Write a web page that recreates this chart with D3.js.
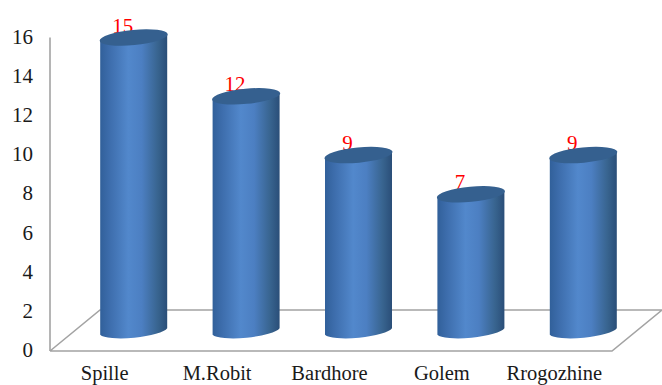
<!DOCTYPE html>
<html>
<head>
<meta charset="utf-8">
<script src="https://cdn.jsdelivr.net/npm/d3@7"></script>
<style>
  html, body { margin: 0; padding: 0; background: #fff; }
  svg { display: block; }
  text { font-family: "Liberation Serif", serif; }
</style>
</head>
<body>
<svg id="chart" width="662" height="385"></svg>
<script>
const categories = ["Spille", "M.Robit", "Bardhore", "Golem", "Rrogozhine"];
const values = [15, 12, 9, 7, 9];
const tickValues = [0, 2, 4, 6, 8, 10, 12, 14, 16];

const svg = d3.select("#chart");

// Oblique projection: the floor recedes up and to the right
const depthX = 50, depthY = -41;
const barShiftX = 27.5, barShiftY = -19.5;
const cylW = 67, rx = 34.2, ry = 7.6, tilt = -5.5;

const y = d3.scaleLinear().domain([0, 16]).range([351, 37.4]);
const x = d3.scaleBand().domain(categories).range([50, 612]).paddingInner(0).paddingOuter(0);
const heightOf = v => y(0) - y(v);

// Cylinder body shading runs left to right
const defs = svg.append("defs");
const grad = defs.append("linearGradient").attr("id", "body").attr("x1", 0).attr("x2", 1).attr("y1", 0).attr("y2", 0);
[[0, "#31609a"], [0.14, "#3d6dac"], [0.42, "#5288cc"], [0.62, "#4c7fc2"], [0.86, "#38648f"], [1, "#2a4e78"]]
  .forEach(([o, c]) => grad.append("stop").attr("offset", o).attr("stop-color", c));

// Walls and floor
const grey = "#a3a3a3";
const x0 = x.range()[0], x1 = x.range()[1];
svg.append("path")
  .attr("d", d3.line()([
    [x0, y(0)], [x1, y(0)], [x1 + depthX, y(0) + depthY], [x0 + depthX, y(0) + depthY], [x0, y(0)]
  ]))
  .attr("fill", "#fff").attr("stroke", grey).attr("stroke-width", 1.6);

svg.append("line")
  .attr("x1", x0).attr("x2", x0).attr("y1", y(16)).attr("y2", y(0))
  .attr("stroke", grey).attr("stroke-width", 1.6);

// Value axis
const axis = d3.axisLeft(y).tickValues(tickValues).tickSize(0).tickPadding(17);
const gAxis = svg.append("g").attr("transform", `translate(${x0},0)`).call(axis);
gAxis.select(".domain").remove();
gAxis.selectAll("text")
  .attr("font-size", 21).attr("fill", "#1a1a1a").attr("dy", "0.27em")
  .style("font-family", '"Liberation Serif", serif');

// Category axis
const catAxis = d3.axisBottom(x).tickSize(0).tickPadding(14);
const gCat = svg.append("g").attr("transform", `translate(0,${y(0)})`).call(catAxis);
gCat.select(".domain").remove();
gCat.selectAll("text")
  .attr("font-size", 20.5).attr("fill", "#1a1a1a").attr("dx", -1.5)
  .style("font-family", '"Liberation Serif", serif');

// Cylinders
const bars = svg.append("g").selectAll("g").data(values).join("g")
  .attr("transform", (d, i) => `translate(${x(categories[i]) + x.bandwidth() / 2 + barShiftX},${y(0) + barShiftY})`);

bars.append("path")
  .attr("fill", "url(#body)")
  .attr("d", d => {
    const h = heightOf(d), dy = (cylW / 2) * Math.tan(-tilt * Math.PI / 180);
    return `M${-cylW / 2},${dy - h}L${-cylW / 2},${dy}` +
      `A${rx},${ry} ${tilt} 0 0 ${cylW / 2},${-dy}` +
      `L${cylW / 2},${-dy - h}Z`;
  });

bars.append("ellipse")
  .attr("rx", rx).attr("ry", ry)
  .attr("transform", d => `translate(0,${-heightOf(d)}) rotate(${tilt})`)
  .attr("fill", "#35608f");

// Value labels sit behind the near rim of each top
bars.insert("text", "path")
  .attr("x", -11)
  .attr("y", d => -heightOf(d) - 5)
  .attr("text-anchor", "middle")
  .attr("font-size", 21)
  .attr("fill", "#ff0000")
  .text(d => d);
</script>
</body>
</html>
